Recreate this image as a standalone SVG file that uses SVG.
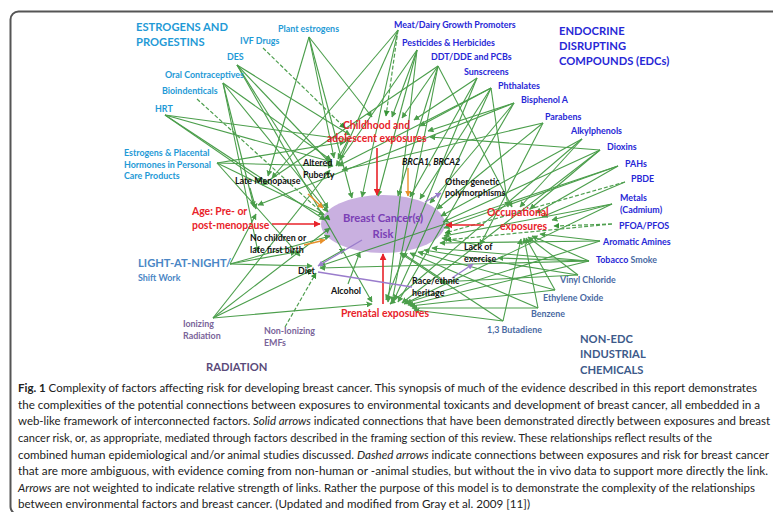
<svg xmlns="http://www.w3.org/2000/svg" width="773" height="512" viewBox="0 0 773 512">
<style>
.lb{font-family:Lato,"Liberation Sans",sans-serif;font-weight:bold;font-size:8.9px}
.cat{font-family:Lato,"Liberation Sans",sans-serif;font-weight:bold;font-size:11.2px}
.est{fill:#1f9ad6}
.edc{fill:#2727d6}
.ind{fill:#4a6aa3}
.rad{fill:#7a6499}
.red{fill:#e8232a;font-size:10.4px}
.blk{fill:#111}
.cap{font-family:Lato,"Open Sans","Liberation Sans",sans-serif;font-size:11.3px;fill:#222}
.g{stroke:#389438;stroke-width:1.1;fill:none;opacity:0.9}
.gd{stroke:#4f9f4f;stroke-width:1.2;fill:none;stroke-dasharray:4 2}
.r{stroke:#e8232a;stroke-width:1.6}
.o{stroke:#e8902a;stroke-width:1.4}
.p{stroke:#9a7ccc;stroke-width:1.3}
</style>
<defs>
<marker id="ag" viewBox="0 0 10 10" refX="9" refY="5" markerWidth="6" markerHeight="6" markerUnits="userSpaceOnUse" orient="auto"><path d="M0,0L10,5L0,10z" fill="#389438"/></marker>
<marker id="ar" viewBox="0 0 10 10" refX="9" refY="5" markerWidth="7" markerHeight="7" markerUnits="userSpaceOnUse" orient="auto"><path d="M0,0L10,5L0,10z" fill="#e8232a"/></marker>
<marker id="ao" viewBox="0 0 10 10" refX="9" refY="5" markerWidth="6" markerHeight="6" markerUnits="userSpaceOnUse" orient="auto"><path d="M0,0L10,5L0,10z" fill="#e8902a"/></marker>
<marker id="ap" viewBox="0 0 10 10" refX="9" refY="5" markerWidth="6" markerHeight="6" markerUnits="userSpaceOnUse" orient="auto"><path d="M0,0L10,5L0,10z" fill="#9a7ccc"/></marker>
</defs>
<rect x="10.5" y="11.5" width="800" height="503" rx="8" fill="#fff" stroke="#555" stroke-width="2"/>

<g id="risk">
<ellipse cx="383" cy="224" rx="62" ry="29" fill="#c9b0e0"/>
</g>

<g id="connectors" marker-end="url(#ag)">
<g class="g">
<line x1="309" y1="37" x2="334" y2="158"/>
<line x1="309" y1="37" x2="372" y2="117"/>
<line x1="309" y1="37" x2="352" y2="198"/>
<line x1="309" y1="37" x2="268" y2="176"/>
<line x1="237" y1="65" x2="350" y2="135"/>
<line x1="237" y1="65" x2="372" y2="302"/>
<line x1="237" y1="65" x2="328" y2="208"/>
<line x1="237" y1="65" x2="332" y2="165"/>
<line x1="223" y1="83" x2="328" y2="212"/>
<line x1="223" y1="83" x2="331" y2="160"/>
<line x1="223" y1="83" x2="254" y2="207"/>
<line x1="223" y1="83" x2="258" y2="252"/>
<line x1="165" y1="115" x2="325" y2="220"/>
<line x1="165" y1="115" x2="332" y2="162"/>
<line x1="165" y1="115" x2="262" y2="182"/>
<line x1="165" y1="115" x2="350" y2="140"/>
<line x1="217" y1="163" x2="333" y2="166"/>
<line x1="217" y1="163" x2="324" y2="215"/>
<line x1="217" y1="163" x2="345" y2="142"/>
<line x1="217" y1="163" x2="300" y2="256"/>
<line x1="398" y1="30" x2="340" y2="160"/>
<line x1="398" y1="30" x2="362" y2="197"/>
<line x1="398" y1="30" x2="272" y2="178"/>
<line x1="417" y1="50" x2="392" y2="117"/>
<line x1="417" y1="50" x2="378" y2="196"/>
<line x1="417" y1="50" x2="388" y2="302"/>
<line x1="417" y1="50" x2="336" y2="166"/>
<line x1="438" y1="66" x2="402" y2="118"/>
<line x1="438" y1="66" x2="398" y2="196"/>
<line x1="438" y1="66" x2="512" y2="207"/>
<line x1="438" y1="66" x2="392" y2="302"/>
<line x1="438" y1="66" x2="262" y2="185"/>
<line x1="477" y1="78" x2="410" y2="197"/>
<line x1="477" y1="78" x2="414" y2="120"/>
<line x1="477" y1="78" x2="386" y2="300"/>
<line x1="491" y1="88" x2="338" y2="166"/>
<line x1="491" y1="88" x2="420" y2="126"/>
<line x1="491" y1="88" x2="420" y2="199"/>
<line x1="491" y1="88" x2="394" y2="300"/>
<line x1="491" y1="88" x2="508" y2="207"/>
<line x1="514" y1="103" x2="428" y2="131"/>
<line x1="514" y1="103" x2="430" y2="203"/>
<line x1="514" y1="103" x2="398" y2="302"/>
<line x1="514" y1="103" x2="258" y2="205"/>
<line x1="543" y1="123" x2="437" y2="209"/>
<line x1="543" y1="123" x2="342" y2="170"/>
<line x1="543" y1="123" x2="480" y2="245"/>
<line x1="582" y1="139" x2="441" y2="216"/>
<line x1="582" y1="139" x2="520" y2="207"/>
<line x1="582" y1="139" x2="390" y2="304"/>
<line x1="600" y1="150" x2="443" y2="222"/>
<line x1="600" y1="150" x2="530" y2="209"/>
<line x1="600" y1="150" x2="402" y2="303"/>
<line x1="600" y1="150" x2="430" y2="137"/>
<line x1="618" y1="166" x2="444" y2="228"/>
<line x1="618" y1="166" x2="536" y2="213"/>
<line x1="618" y1="166" x2="320" y2="266"/>
<line x1="625" y1="182" x2="542" y2="217"/>
<line x1="612" y1="204" x2="444" y2="236"/>
<line x1="612" y1="204" x2="552" y2="220"/>
<line x1="612" y1="204" x2="404" y2="304"/>
<line x1="600" y1="241" x2="540" y2="234"/>
<line x1="600" y1="241" x2="440" y2="243"/>
<line x1="600" y1="241" x2="406" y2="303"/>
<line x1="589" y1="261" x2="432" y2="248"/>
<line x1="589" y1="261" x2="532" y2="236"/>
<line x1="589" y1="261" x2="408" y2="305"/>
<line x1="589" y1="261" x2="320" y2="268"/>
<line x1="589" y1="261" x2="498" y2="258"/>
<line x1="578" y1="275" x2="528" y2="237"/>
<line x1="578" y1="275" x2="424" y2="250"/>
<line x1="578" y1="275" x2="440" y2="282"/>
<line x1="555" y1="290" x2="526" y2="238"/>
<line x1="555" y1="290" x2="418" y2="252"/>
<line x1="555" y1="290" x2="410" y2="306"/>
<line x1="538" y1="308" x2="524" y2="238"/>
<line x1="538" y1="308" x2="410" y2="253"/>
<line x1="538" y1="308" x2="412" y2="308"/>
<line x1="503" y1="321" x2="521" y2="239"/>
<line x1="503" y1="321" x2="400" y2="253"/>
<line x1="503" y1="321" x2="414" y2="310"/>
<line x1="230" y1="264" x2="330" y2="236"/>
<line x1="230" y1="264" x2="296" y2="252"/>
<line x1="230" y1="264" x2="312" y2="266"/>
<line x1="230" y1="264" x2="256" y2="214"/>
<line x1="213" y1="318" x2="330" y2="170"/>
<line x1="213" y1="318" x2="330" y2="228"/>
<line x1="213" y1="318" x2="312" y2="270"/>
<line x1="213" y1="318" x2="372" y2="304"/>
<line x1="250" y1="188" x2="256" y2="209"/>
<line x1="440" y1="278" x2="402" y2="253"/>
<line x1="478" y1="245" x2="442" y2="238"/>
<line x1="348" y1="284" x2="360" y2="252"/>
<line x1="322" y1="262" x2="345" y2="249"/>
<line x1="348" y1="140" x2="338" y2="159"/>
</g>
<g class="gd">
<line x1="263" y1="48" x2="345" y2="128"/>
<line x1="197" y1="99" x2="330" y2="220"/>
<line x1="398" y1="30" x2="386" y2="116"/>
<line x1="625" y1="182" x2="445" y2="233"/>
<line x1="612" y1="224" x2="554" y2="226"/>
<line x1="612" y1="224" x2="446" y2="240"/>
<line x1="285" y1="327" x2="316" y2="273"/>
</g>
<g class="r" marker-end="url(#ar)">
<line x1="377" y1="148" x2="377" y2="195"/>
<line x1="272" y1="224" x2="320" y2="224"/>
<line x1="484" y1="225" x2="446" y2="225"/>
<line x1="383" y1="304" x2="383" y2="254"/>
</g>
<g class="o" marker-end="url(#ao)">
<line x1="408" y1="168" x2="408" y2="196"/>
<line x1="308" y1="194" x2="323" y2="208"/>
<line x1="304" y1="245" x2="325" y2="240"/>
</g>
<g class="p" marker-end="url(#ap)">
<line x1="425" y1="202" x2="441" y2="193"/>
<line x1="452" y1="278" x2="473" y2="264"/>
<line x1="362" y1="240" x2="318" y2="266"/>
<line x1="412" y1="287" x2="318" y2="272" marker-end="none"/>
</g>
</g>

<g id="estrogens-cat"><text class="cat est" x="136" y="31">ESTROGENS AND</text><text class="cat est" x="136" y="46">PROGESTINS</text></g>
<g id="plant-estrogens"><text class="lb est" x="278" y="32">Plant estrogens</text></g>
<g id="ivf"><text class="lb est" x="240" y="44">IVF Drugs</text></g>
<g id="des"><text class="lb est" x="227" y="60">DES</text></g>
<g id="oral"><text class="lb est" x="165" y="78">Oral Contraceptives</text></g>
<g id="bioind"><text class="lb est" x="162" y="94">Bioindenticals</text></g>
<g id="hrt"><text class="lb est" x="155" y="112">HRT</text></g>
<g id="estplac"><text class="lb est" x="124" y="156">Estrogens &amp; Placental</text><text class="lb est" x="124" y="168">Hormones in Personal</text><text class="lb est" x="124" y="179">Care Products</text></g>

<g id="edc-cat"><text class="cat edc" x="559" y="35">ENDOCRINE</text><text class="cat edc" x="559" y="50">DISRUPTING</text><text class="cat edc" x="559" y="65">COMPOUNDS (EDCs)</text></g>
<g id="meat"><text class="lb edc" x="394" y="28">Meat/Dairy Growth Promoters</text></g>
<g id="pest"><text class="lb edc" x="402" y="46">Pesticides &amp; Herbicides</text></g>
<g id="ddt"><text class="lb edc" x="431" y="60">DDT/DDE and PCBs</text></g>
<g id="sun"><text class="lb edc" x="464" y="75">Sunscreens</text></g>
<g id="phth"><text class="lb edc" x="498" y="89">Phthalates</text></g>
<g id="bpa"><text class="lb edc" x="521" y="103">Bisphenol A</text></g>
<g id="parab"><text class="lb edc" x="545" y="120">Parabens</text></g>
<g id="alkyl"><text class="lb edc" x="571" y="134">Alkylphenols</text></g>
<g id="diox"><text class="lb edc" x="607" y="150">Dioxins</text></g>
<g id="pahs"><text class="lb edc" x="625" y="167">PAHs</text></g>
<g id="pbde"><text class="lb edc" x="631" y="182">PBDE</text></g>
<g id="metals"><text class="lb edc" x="620" y="201">Metals</text><text class="lb edc" x="620" y="213">(Cadmium)</text></g>
<g id="pfoa"><text class="lb edc" x="619" y="229">PFOA/PFOS</text></g>
<g id="arom"><text class="lb edc" x="603" y="245">Aromatic Amines</text></g>
<g id="tobacco"><text class="lb edc" x="596" y="263">Tobacco <tspan class="ind">Smoke</tspan></text></g>

<g id="vinyl"><text class="lb ind" x="560" y="283">Vinyl Chloride</text></g>
<g id="ethylene"><text class="lb ind" x="543" y="301">Ethylene Oxide</text></g>
<g id="benzene"><text class="lb ind" x="531" y="317">Benzene</text></g>
<g id="butadiene"><text class="lb ind" x="487" y="333">1,3 Butadiene</text></g>
<g id="nonedc-cat"><text class="cat" fill="#3d5a8a" x="580" y="343">NON-EDC</text><text class="cat" fill="#3d5a8a" x="580" y="358">INDUSTRIAL</text><text class="cat" fill="#3d5a8a" x="580" y="374">CHEMICALS</text></g>

<g id="lan"><text class="cat" fill="#4a86c5" x="138" y="267">LIGHT-AT-NIGHT/</text><text class="lb" fill="#4a86c5" font-size="10.5" x="138" y="281">Shift Work</text></g>
<g id="ionizing"><text class="lb rad" x="183" y="327">Ionizing</text><text class="lb rad" x="183" y="339">Radiation</text></g>
<g id="nonionizing"><text class="lb rad" x="264" y="334">Non-Ionizing</text><text class="lb rad" x="264" y="346">EMFs</text></g>
<g id="radiation-cat"><text class="cat" fill="#5a4a7a" x="206" y="371">RADIATION</text></g>

<g id="childhood"><text class="lb red" x="343" y="129">Childhood and</text><text class="lb red" x="327" y="142">adolescent exposures</text></g>
<g id="age"><text class="lb red" x="192" y="215">Age: Pre- or</text><text class="lb red" x="192" y="229">post-menopause</text></g>
<g id="occupational"><text class="lb red" x="487" y="216">Occupational</text><text class="lb red" x="500" y="230">exposures</text></g>
<g id="prenatal"><text class="lb red" x="341" y="317">Prenatal exposures</text></g>

<g id="puberty"><text class="lb blk" x="303" y="166">Altered</text><text class="lb blk" x="303" y="178">Puberty</text></g>
<g id="latemeno"><text class="lb blk" x="235" y="184">Late Menopause</text></g>
<g id="brca"><text class="lb blk" x="402" y="165" font-style="italic">BRCA1, BRCA2</text></g>
<g id="genetic"><text class="lb blk" x="445" y="185">Other genetic</text><text class="lb blk" x="445" y="196">polymorphisms</text></g>
<g id="nochildren"><text class="lb blk" x="250" y="241">No children or</text><text class="lb blk" x="250" y="253">late first birth</text></g>
<g id="diet"><text class="lb blk" x="298" y="274">Diet</text></g>
<g id="alcohol"><text class="lb blk" x="331" y="294">Alcohol</text></g>
<g id="race"><text class="lb blk" x="412" y="284">Race/ethnic</text><text class="lb blk" x="412" y="296">heritage</text></g>
<g id="exercise"><text class="lb blk" x="464" y="250">Lack of</text><text class="lb blk" x="464" y="262">exercise</text></g>

<g id="risk-label"><text class="cat" fill="#7b3fb5" font-size="12.2" x="383" y="222" text-anchor="middle">Breast Cancer(s)</text><text class="cat" fill="#7b3fb5" font-size="12.2" x="383" y="238" text-anchor="middle">Risk</text></g>

<g id="caption">
<text class="cap" x="18" y="392" textLength="739" lengthAdjust="spacingAndGlyphs"><tspan font-weight="bold">Fig. 1</tspan> Complexity of factors affecting risk for developing breast cancer. This synopsis of much of the evidence described in this report demonstrates</text>
<text class="cap" x="18" y="409" textLength="742" lengthAdjust="spacingAndGlyphs">the complexities of the potential connections between exposures to environmental toxicants and development of breast cancer, all embedded in a</text>
<text class="cap" x="18" y="425" textLength="752" lengthAdjust="spacingAndGlyphs">web-like framework of interconnected factors. <tspan font-style="italic">Solid arrows</tspan> indicated connections that have been demonstrated directly between exposures and breast</text>
<text class="cap" x="18" y="442" textLength="694" lengthAdjust="spacingAndGlyphs">cancer risk, or, as appropriate, mediated through factors described in the framing section of this review. These relationships reflect results of the</text>
<text class="cap" x="18" y="459" textLength="751" lengthAdjust="spacingAndGlyphs">combined human epidemiological and/or animal studies discussed. <tspan font-style="italic">Dashed arrows</tspan> indicate connections between exposures and risk for breast cancer</text>
<text class="cap" x="18" y="475" textLength="750" lengthAdjust="spacingAndGlyphs">that are more ambiguous, with evidence coming from non-human or -animal studies, but without the in vivo data to support more directly the link.</text>
<text class="cap" x="18" y="492" textLength="737" lengthAdjust="spacingAndGlyphs"><tspan font-style="italic">Arrows</tspan> are not weighted to indicate relative strength of links. Rather the purpose of this model is to demonstrate the complexity of the relationships</text>
<text class="cap" x="18" y="508" textLength="512" lengthAdjust="spacingAndGlyphs">between environmental factors and breast cancer. (Updated and modified from Gray et al. 2009 [11])</text>
</g>
</svg>
